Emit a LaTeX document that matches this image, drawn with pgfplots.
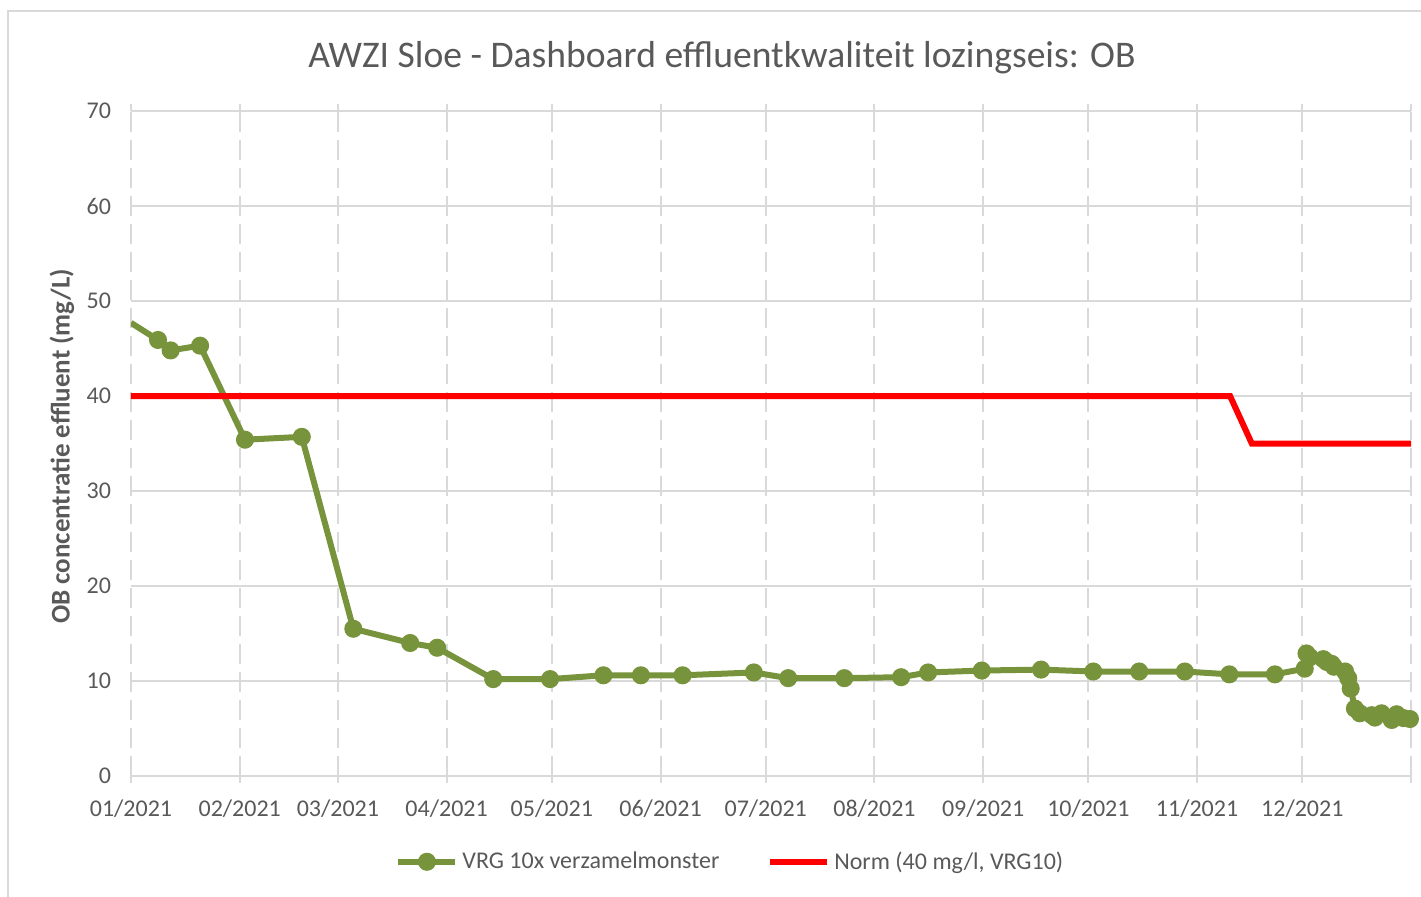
\documentclass[border=0pt]{standalone}
\usepackage{pgfplots}
\pgfplotsset{compat=1.18}
\usepackage{fontspec}
\setmainfont{Carlito}
\definecolor{txt}{HTML}{595959}
\definecolor{gridc}{HTML}{D9D9D9}
\definecolor{olivegr}{HTML}{77933C}
\begin{document}
\begin{tikzpicture}
\useasboundingbox (0,0) rectangle (710.5pt,448pt);
\draw[gridc, line width=1pt] (4pt,-5pt) -- (4pt,442.5pt) -- (720pt,442.5pt);
\begin{axis}[
  at={(65.5pt,60pt)}, anchor=south west,
  scale only axis, width=640pt, height=332.5pt,
  xmin=0, xmax=365, ymin=0, ymax=70,
  xtick={0,31,59,90,120,151,181,212,243,273,304,334,365},
  xticklabels={01/2021,02/2021,03/2021,04/2021,05/2021,06/2021,07/2021,08/2021,09/2021,10/2021,11/2021,12/2021,{}},
  ytick={0,10,...,70},
  axis line style={draw=none},
  grid=major,
  x grid style={gridc, line width=1pt, dash pattern=on 10pt off 4pt},
  y grid style={gridc, line width=1pt},
  tick align=outside,
  xtick style={gridc, line width=1pt},
  major tick length=3.5pt,
  ytick style={draw=none},
  /pgf/number format/assume math mode=true,
  ticklabel style={font=\fontsize{12}{14}\selectfont, text=txt},
  yticklabel style={xshift=-3pt},
  xticklabel style={yshift=-5pt},
  title={AWZI Sloe - Dashboard effluentkwaliteit lozingseis: OB},
  title style={at={(axis description cs:0.4617,1.0617)}, anchor=center, font=\fontsize{18.8}{22}\selectfont, text=txt},
  ylabel={OB concentratie effluent (mg/L)},
  ylabel style={at={(axis description cs:-0.0539,0.4955)}, anchor=center, font=\bfseries\fontsize{13.5}{16}\selectfont, text=txt},
  legend style={at={(axis description cs:0.469,-0.129)}, anchor=center, draw=none, fill=none, legend columns=2, font=\fontsize{12}{14}\selectfont, text=txt, /tikz/every even column/.append style={column sep=22pt}},
  legend image code/.code={\draw[#1, mark indices={2}] plot coordinates {(0pt,0pt) (14.25pt,0pt) (28.5pt,0pt)};},
]
\addplot[olivegr, line width=3pt, mark=*, mark size=3pt, mark options={solid}, mark indices={2,...,50}] coordinates {
(0,47.7) (7.7,45.9) (11.3,44.8) (19.7,45.3) (32.5,35.4) (48.7,35.7)
(63.4,15.5) (79.6,14.0) (87.3,13.5) (103.3,10.2) (119.5,10.2) (134.7,10.6)
(145.4,10.6) (157.3,10.6) (177.6,10.9) (187.4,10.3) (203.4,10.3) (219.6,10.4)
(227.3,10.9) (242.6,11.1) (259.5,11.2) (274.4,11.0) (287.5,11.0) (300.5,11.0)
(313.2,10.7) (326.2,10.7) (334.7,11.3) (335.2,12.9) (336.2,12.5) (340,12.3)
(341,12.0) (342.4,11.8) (343,11.5) (346.2,11.0) (347.1,10.3) (347.8,9.2)
(349,7.1) (350.4,6.6) (353.8,6.4) (354.7,6.15) (356.6,6.6) (359.5,5.9)
(360.9,6.5) (362.8,6.1) (364.7,6.0)
};
\addlegendentry{VRG 10x verzamelmonster}
\addplot[red, line width=3pt, no markers] coordinates {
(0,40) (313.4,40) (319.6,35) (365,35)
};
\addlegendentry{Norm (40 mg/l, VRG10)}
\end{axis}
\end{tikzpicture}
\end{document}
